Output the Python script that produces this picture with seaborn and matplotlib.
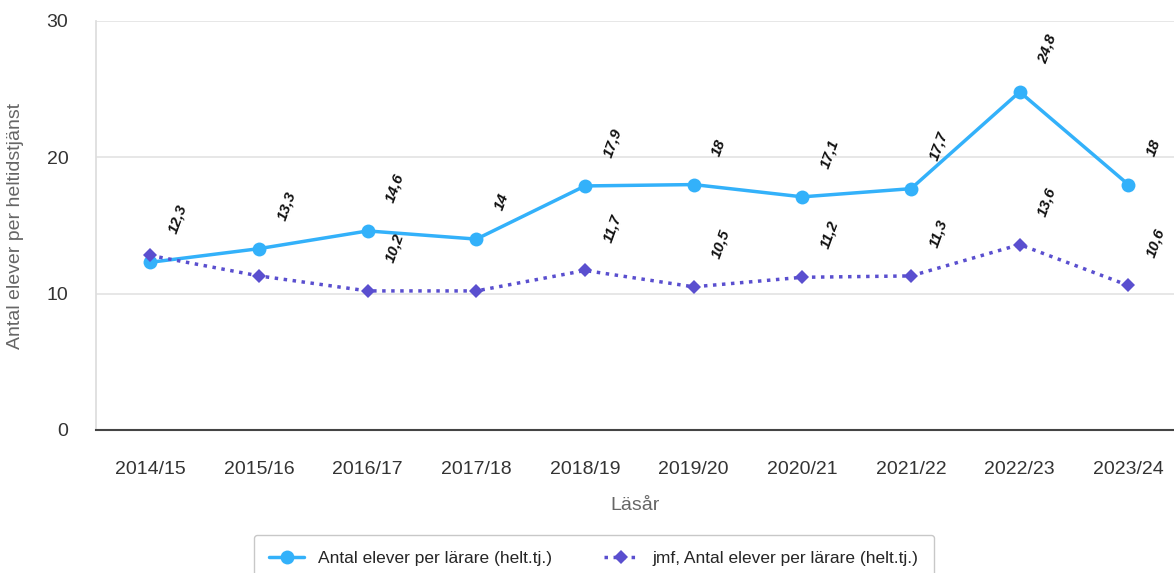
import pandas as pd
import numpy as np
import matplotlib
matplotlib.use("Agg")
import matplotlib.pyplot as plt
import seaborn as sns

# Data
years = ["2014/15", "2015/16", "2016/17", "2017/18", "2018/19",
         "2019/20", "2020/21", "2021/22", "2022/23", "2023/24"]
skola = [12.3, 13.3, 14.6, 14.0, 17.9, 18.0, 17.1, 17.7, 24.8, 18.0]
jmf = [12.8, 11.3, 10.2, 10.2, 11.7, 10.5, 11.2, 11.3, 13.6, 10.6]
# the reference hides these jmf value labels (they collide with others)
jmf_hidden = [0, 1, 3]

name_a = "Antal elever per lärare (helt.tj.)"
name_b = "jmf, Antal elever per lärare (helt.tj.)"

blue = "#33b1fa"
purple = "#5a4fcf"

sns.set_theme(style="white")
plt.rcParams['font.family'] = ['Liberation Sans', 'DejaVu Sans']

df = pd.DataFrame({"pos": np.arange(len(years)), "a": skola, "b": jmf})

fig = plt.figure(figsize=(11.74, 5.73), dpi=100)
ax = fig.add_axes([0.0818, 0.2496, 0.9182, 0.7138])

sns.lineplot(data=df, x="pos", y="a", ax=ax, color=blue, linewidth=2.5,
             marker="o", markersize=10, markeredgewidth=0, label=name_a)
sns.lineplot(data=df, x="pos", y="b", ax=ax, color=purple, linewidth=2.5,
             marker="D", markersize=7, markeredgewidth=0, label=name_b)
ax.lines[1].set_dashes((1, 1.6))

# value labels (comma decimal)
def fmt(v):
    s = f"{v:.1f}".rstrip("0").rstrip(".")
    return s.replace(".", ",")

for series, hidden in [(skola, []), (jmf, jmf_hidden)]:
    for i, v in enumerate(series):
        if i in hidden:
            continue
        ax.annotate(fmt(v), (i, v), xytext=(16, 21), textcoords="offset points",
                    rotation=70, rotation_mode="anchor", ha="left", va="center",
                    fontsize=11, fontweight="bold", fontstyle="italic", color="#111111")

ax.set_xlim(-0.5, 9.42)
ax.set_ylim(0, 30)
ax.set_yticks([0, 10, 20, 30])
ax.set_xticks(range(len(years)))
ax.set_xticklabels(years)
ax.grid(axis="y", color="#e3e3e3", linewidth=1.2)
ax.tick_params(axis="both", labelsize=14, colors="#333333", length=0)
ax.tick_params(axis="x", pad=22)
ax.tick_params(axis="y", pad=20)

for side in ["top", "right"]:
    ax.spines[side].set_visible(False)
ax.spines["left"].set_color("#dddddd")
ax.spines["bottom"].set_color("#444444")
ax.spines["bottom"].set_linewidth(1.5)

ax.set_xlabel("Läsår", fontsize=14, color="#666666", labelpad=14)
ax.set_ylabel("Antal elever per heltidstjänst", fontsize=14, color="#666666", labelpad=16)

ax.get_legend().remove()
handles, labels = ax.get_legend_handles_labels()
leg = fig.legend(handles, labels, loc="center", bbox_to_anchor=(594 / 1174, 1 - 558 / 573),
                 ncol=2, fontsize=12.5, frameon=True, fancybox=True, edgecolor="#bbbbbb",
                 handlelength=2.0, columnspacing=3, borderpad=0.9)
leg.get_frame().set_linewidth(1.0)

fig.savefig("out.png", dpi=100)
